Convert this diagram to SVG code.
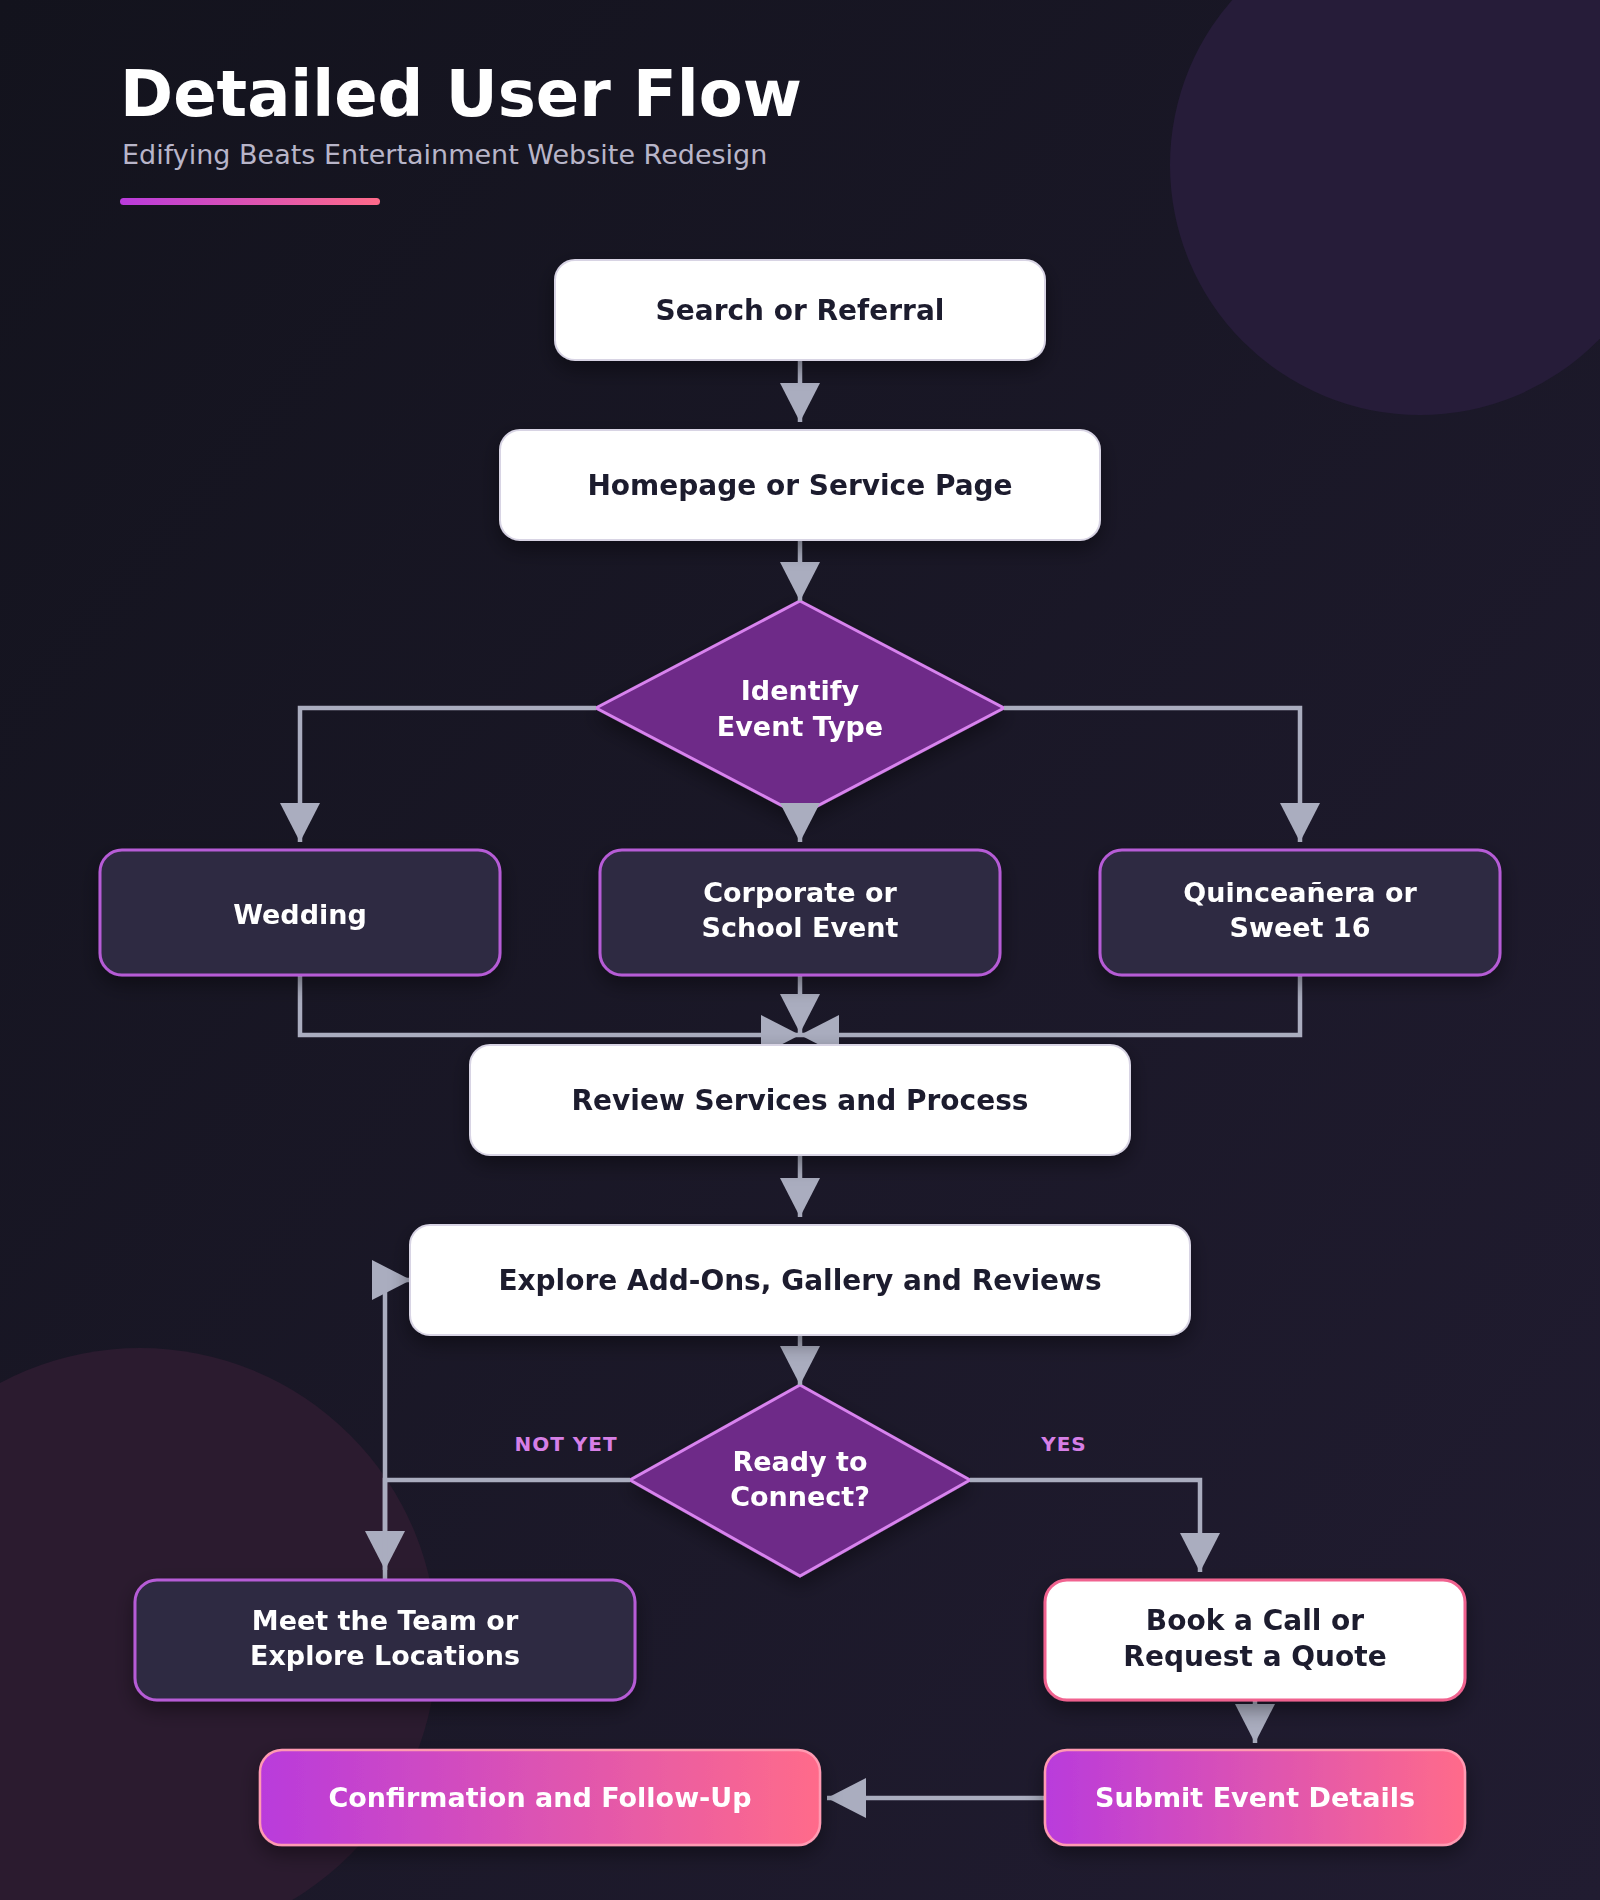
<svg xmlns="http://www.w3.org/2000/svg" width="1600" height="1900" viewBox="0 0 1600 1900">
<defs>
  <linearGradient id="bg" x1="0" y1="0" x2="1" y2="1">
    <stop offset="0" stop-color="#13131d"/>
    <stop offset="1" stop-color="#211c31"/>
  </linearGradient>
  <linearGradient id="accent" x1="0" y1="0" x2="1" y2="0">
    <stop offset="0" stop-color="#b93bdc"/>
    <stop offset="1" stop-color="#ff6b8a"/>
  </linearGradient>
  <filter id="shadow" x="-20%" y="-30%" width="140%" height="170%">
    <feDropShadow dx="0" dy="8" stdDeviation="10" flood-color="#000" flood-opacity="0.4"/>
  </filter>
  <marker id="arrow" markerUnits="userSpaceOnUse" markerWidth="39" markerHeight="40" refX="39" refY="20" orient="auto">
    <path d="M0,0 L39,20 L0,40 z" fill="#aaadbf"/>
  </marker>
  <style>
    .title{font-family:"DejaVu Sans",sans-serif;font-weight:bold;font-size:64px;fill:#ffffff}
    .sub{font-family:"DejaVu Sans",sans-serif;font-size:27px;fill:#b8b5c9}
    .white rect{fill:#ffffff;stroke:#d8d4e4;stroke-width:2}
    .dark rect{fill:#2e2a42;stroke:#b65bd6;stroke-width:3}
    .pink rect{fill:#ffffff;stroke:#f0628f;stroke-width:3}
    .grad rect{fill:url(#accent);stroke:#ff9ab2;stroke-width:2.5}
    .dia polygon{fill:#6e2b88;stroke:#d883ee;stroke-width:3}
    .node{filter:url(#shadow)}
    .t{font-family:"DejaVu Sans",sans-serif;font-weight:bold;text-anchor:middle}
    .td{fill:#1e1b2e;font-size:28px}
    .tw{fill:#ffffff;font-size:27px}
    .lbl{font-family:"DejaVu Sans",sans-serif;font-weight:bold;font-size:20px;letter-spacing:1px;fill:#d67fe6;text-anchor:middle}
    .conn path{fill:none;stroke:#aaadbf;stroke-width:4.5;marker-end:url(#arrow)}
  </style>
</defs>
<rect x="0" y="0" width="1600" height="1900" fill="url(#bg)"/>
<circle cx="1420" cy="165" r="250" fill="#261c39"/>
<circle cx="140" cy="1645" r="297" fill="#2b1b2f"/>

<g id="header">
  <text class="title" x="120" y="116">Detailed User Flow</text>
  <text class="sub" x="122" y="164">Edifying Beats Entertainment Website Redesign</text>
  <rect x="120" y="198" width="260" height="7" rx="3.5" fill="url(#accent)"/>
</g>

<g id="n-identify" class="node dia">
  <polygon points="800,601 1004,708 800,815 596,708"/>
  <text class="t tw" x="800" y="700">Identify</text>
  <text class="t tw" x="800" y="736">Event Type</text>
</g>
<g id="n-ready" class="node dia">
  <polygon points="800,1385 970,1480 800,1576 630,1480"/>
  <text class="t tw" x="800" y="1471">Ready to</text>
  <text class="t tw" x="800" y="1506">Connect?</text>
</g>

<g id="connectors" class="conn">
  <path d="M800,360 V422"/>
  <path d="M800,540 V601"/>
  <path d="M596,708 H300 V842"/>
  <path d="M800,815 V842"/>
  <path d="M1004,708 H1300 V842"/>
  <path d="M300,975 V1035 H800"/>
  <path d="M800,975 V1033"/>
  <path d="M1300,975 V1035 H800"/>
  <path d="M800,1155 V1217"/>
  <path d="M800,1335 V1385"/>
  <path d="M630,1480 H385 V1570"/>
  <path d="M385,1580 V1280 H411"/>
  <path d="M970,1480 H1200 V1572"/>
  <path d="M1255,1700 V1743"/>
  <path d="M1045,1798 H827"/>
  <text class="lbl" x="566" y="1451">NOT YET</text>
  <text class="lbl" x="1064" y="1451">YES</text>
</g>

<g id="n-search" class="node white">
  <rect x="555" y="260" width="490" height="100" rx="20"/>
  <text class="t td" x="800" y="320">Search or Referral</text>
</g>
<g id="n-homepage" class="node white">
  <rect x="500" y="430" width="600" height="110" rx="20"/>
  <text class="t td" x="800" y="495">Homepage or Service Page</text>
</g>
<g id="n-wedding" class="node dark">
  <rect x="100" y="850" width="400" height="125" rx="22"/>
  <text class="t tw" x="300" y="924">Wedding</text>
</g>
<g id="n-corporate" class="node dark">
  <rect x="600" y="850" width="400" height="125" rx="22"/>
  <text class="t tw" x="800" y="902">Corporate or</text>
  <text class="t tw" x="800" y="937">School Event</text>
</g>
<g id="n-quince" class="node dark">
  <rect x="1100" y="850" width="400" height="125" rx="22"/>
  <text class="t tw" x="1300" y="902">Quinceañera or</text>
  <text class="t tw" x="1300" y="937">Sweet 16</text>
</g>
<g id="n-review" class="node white">
  <rect x="470" y="1045" width="660" height="110" rx="20"/>
  <text class="t td" x="800" y="1110">Review Services and Process</text>
</g>
<g id="n-explore" class="node white">
  <rect x="410" y="1225" width="780" height="110" rx="20"/>
  <text class="t td" x="800" y="1290">Explore Add-Ons, Gallery and Reviews</text>
</g>
<g id="n-meet" class="node dark">
  <rect x="135" y="1580" width="500" height="120" rx="22"/>
  <text class="t tw" x="385" y="1630">Meet the Team or</text>
  <text class="t tw" x="385" y="1665">Explore Locations</text>
</g>
<g id="n-book" class="node pink">
  <rect x="1045" y="1580" width="420" height="120" rx="22"/>
  <text class="t td" x="1255" y="1630">Book a Call or</text>
  <text class="t td" x="1255" y="1666">Request a Quote</text>
</g>
<g id="n-submit" class="node grad">
  <rect x="1045" y="1750" width="420" height="95" rx="22"/>
  <text class="t tw" x="1255" y="1807">Submit Event Details</text>
</g>
<g id="n-confirm" class="node grad">
  <rect x="260" y="1750" width="560" height="95" rx="22"/>
  <text class="t tw" x="540" y="1807">Confirmation and Follow-Up</text>
</g>
</svg>
